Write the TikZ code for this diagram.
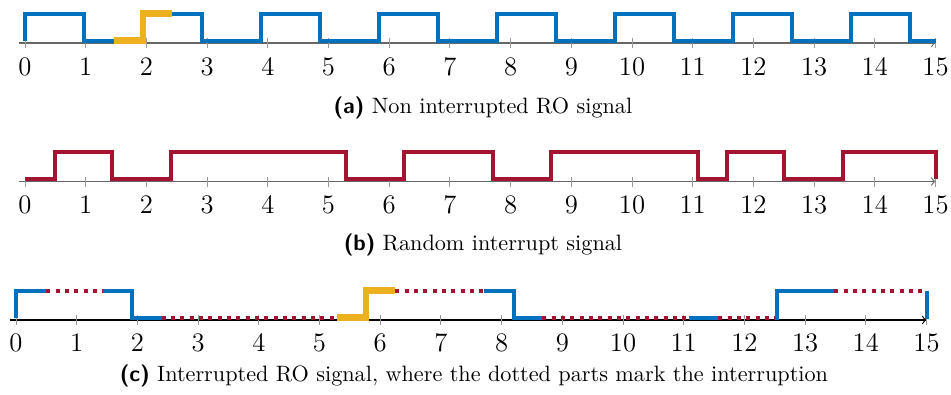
\documentclass[tikz,border=0pt]{standalone}
\usepackage{amsmath}
\usepackage{amssymb}
\usepackage{tikz}

\definecolor{roblue}{RGB}{0,114,189}
\definecolor{rored}{RGB}{162,20,47}
\definecolor{royellow}{RGB}{237,177,32}

\begin{document}
\begin{tikzpicture}[x=0.45pt,y=0.45pt,yscale=-1,xscale=1,
  axisline/.style={draw=black!60,line width=0.5pt,->},
  axisdark/.style={draw=black,line width=0.5pt,->},
  tickmark/.style={draw=black!40,line width=0.4pt},
  ticklabel/.style={anchor=base,inner sep=0pt,font=\large},
  rosig/.style={draw=roblue,line width=1.8pt},
  irqsig/.style={draw=rored,line width=1.8pt},
  gapsig/.style={draw=rored,line width=1.8pt,dash pattern=on 1.8pt off 2.4pt},
  marksig/.style={draw=royellow,line width=2.8pt},
  subcap/.style={anchor=base,inner sep=0pt}]
\useasboundingbox (0,0) rectangle (951,394);

%Plot (a): free running RO
\begin{scope}[shift={(25,43)},xscale=60.7]
\draw[axisline] (-0.1,0) -- (15,0);
\foreach \t in {0,...,15}{
  \draw[tickmark] (\t,-5) -- (\t,5);
  \node[ticklabel] (ta\t) at (\t,32) {\t};
}
%Signal
\draw[rosig] (0,-2.5) |- (0.972,-29.5) |- (1.944,-2.5) |- (2.916,-29.5) |- (3.888,-2.5) |- (4.86,-29.5) |- (5.832,-2.5) |- (6.804,-29.5) |- (7.776,-2.5) |- (8.748,-29.5) |- (9.72,-2.5) |- (10.692,-29.5) |- (11.664,-2.5) |- (12.636,-29.5) |- (13.608,-2.5) |- (14.58,-29.5) |- (15,-2.5);
%Marked part
\draw[marksig] (1.46,-2.5) -| (1.944,-29.5) -- (2.42,-29.5);
\end{scope}

%Plot (b): random interrupt
\begin{scope}[shift={(25,181.5)},xscale=60.7]
\draw[axisline] (-0.1,0) -- (15,0);
\foreach \t in {0,...,15}{
  \draw[tickmark] (\t,-5) -- (\t,5);
  \node[ticklabel] (tb\t) at (\t,32) {\t};
}
%Signal
\draw[irqsig] (0,-2.5) -| (0.5,-29.5) -| (1.43,-2.5) -| (2.4,-29.5) -| (5.29,-2.5) -| (6.25,-29.5) -| (7.71,-2.5) -| (8.67,-29.5) -| (11.09,-2.5) -| (11.57,-29.5) -| (12.51,-2.5) -| (13.48,-29.5) -| (15,-2.5);
\end{scope}

%Plot (c): interrupted RO
\begin{scope}[shift={(16,320)},xscale=60.7]
\draw[axisdark] (-0.1,0) -- (15,0);
\foreach \t in {0,...,15}{
  \draw[tickmark] (\t,-5) -- (\t,5);
  \node[ticklabel] (tc\t) at (\t,31) {\t};
}
%Running parts
\draw[rosig] (0,-2.5) |- (0.5,-29.5);
\draw[rosig] (1.43,-29.5) -| (1.91,-2.5) -- (2.4,-2.5);
\draw[rosig] (7.71,-29.5) -| (8.2,-2.5) -- (8.67,-2.5);
\draw[rosig] (11.09,-2.5) -- (11.57,-2.5);
\draw[rosig] (12.51,-2.5) -| (12.54,-29.5) -- (13.48,-29.5);
\draw[rosig] (15,-29.5) -- (15,-1);
%Marked part
\draw[marksig] (5.29,-2.5) -| (5.77,-29.5) -- (6.25,-29.5);
%Interrupted parts
\draw[gapsig] (0.5,-29.5) -- (1.43,-29.5);
\draw[gapsig] (2.4,-2.5) -- (5.29,-2.5);
\draw[gapsig] (6.25,-29.5) -- (7.71,-29.5);
\draw[gapsig] (8.67,-2.5) -- (11.09,-2.5);
\draw[gapsig] (11.57,-2.5) -- (12.51,-2.5);
\draw[gapsig] (13.48,-29.5) -- (15,-29.5);
\end{scope}

% Text Node
\node[subcap] (capa) at (483,113) {\textsf{\textbf{(a)}} Non interrupted RO signal};
% Text Node
\node[subcap] (capb) at (483,250) {\textsf{\textbf{(b)}} Random interrupt signal};
% Text Node
\node[subcap] (capc) at (474,381) {\textsf{\textbf{(c)}} Interrupted RO signal, where the dotted parts mark the interruption};

\end{tikzpicture}
\end{document}
